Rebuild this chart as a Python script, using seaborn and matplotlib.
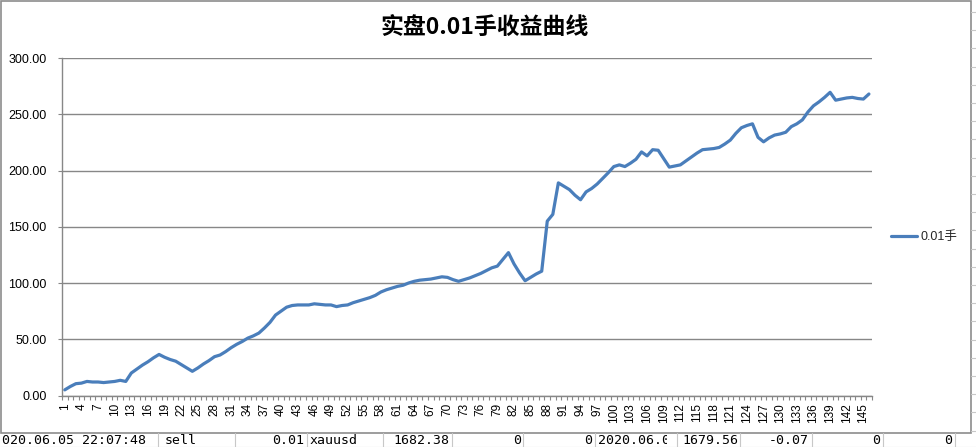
import numpy as np
import pandas as pd
import matplotlib
matplotlib.use("Agg")
import matplotlib.pyplot as plt
from matplotlib.lines import Line2D
from matplotlib.patches import Rectangle
from matplotlib.transforms import Bbox
import seaborn as sns

# ---- data ----
categories = list(range(1, 147))
values = [
    5, 8, 10.5, 11, 12.5, 12, 12, 11.5, 12, 12.5,
    13.5, 12.5, 20, 23.5, 27, 30, 33.5, 36.5, 34, 32,
    30.5, 27.5, 24.5, 21.5, 24.5, 28, 31, 34.5, 36, 39,
    42.5, 45.5, 48, 51, 53, 55.5, 60, 65, 71.5, 75,
    78.5, 80, 80.5, 80.5, 80.5, 81.5, 81, 80.5, 80.5, 79,
    80, 80.5, 82.5, 84, 85.5, 87, 89, 92, 94, 95.5,
    97, 98, 100, 101.5, 102.5, 103, 103.5, 104.5, 105.5, 105,
    103, 101.5, 103, 104.5, 106.5, 108.5, 111, 113.5, 115, 121,
    127, 117, 109, 102, 105, 108, 110.5, 155, 161, 189,
    186, 183, 178, 174, 181, 184, 188, 193, 198, 203.5,
    205, 203.5, 206.5, 210, 216.5, 213, 218.5, 218, 210.5, 203,
    204, 205, 208.5, 212, 215.5, 218.5, 219, 219.5, 220.5, 223.5,
    227, 233, 238, 240, 241.5, 229.5, 225.5, 229, 231.5, 232.5,
    234, 239, 241.5, 245, 252, 257.5, 261, 265, 269.5, 262.5,
    263.5, 264.5, 265, 264, 263.5, 268,
]
series_name = "0.01手"
title = "实盘0.01手收益曲线"
y_ticks = [0, 50, 100, 150, 200, 250, 300]
label_step = 3

# spreadsheet row beneath the chart (text, x position, alignment)
sheet_cells = [
    ("020.06.05 22:07:48", 2, "left"),
    ("sell", 165, "left"),
    ("0.01", 304, "right"),
    ("xauusd", 310, "left"),
    ("1682.38", 449, "right"),
    ("0", 521, "right"),
    ("0", 592, "right"),
    ("2020.06.05", 598, "left"),
    ("1679.56", 738, "right"),
    ("-0.07", 809, "right"),
    ("0", 880, "right"),
    ("0", 952, "right"),
]
sheet_seps = [158, 235, 307, 383, 452, 523, 595, 677, 740, 812, 883, 955]

# ---- style ----
sns.set_style("white")
plt.rcParams["font.family"] = ["Liberation Sans", "Noto Sans CJK SC", "DejaVu Sans"]

W, H = 976, 447
fig = plt.figure(figsize=(W / 100, H / 100), dpi=100)
fig.patch.set_facecolor("white")

# overlay (frame + spreadsheet strip)
ov = fig.add_axes([0, 0, 1, 1], zorder=0)
ov.set_xlim(0, W)
ov.set_ylim(H, 0)
ov.axis("off")
ov.patch.set_visible(False)

grid_sheet = "#c8c8c8"
for yy in np.arange(12, 433, 18.2):
    ov.add_line(Line2D([971, W], [yy, yy], color=grid_sheet, lw=0.8))
ov.add_line(Line2D([0, W], [446.5, 446.5], color=grid_sheet, lw=0.8))
for xs in sheet_seps:
    ov.add_line(Line2D([xs, xs], [433, H], color=grid_sheet, lw=0.8))
ov.add_patch(Rectangle((1, 1), 970, 432, fill=False, edgecolor="#8c8c8c", lw=1.2))

for txt, xpos, ha in sheet_cells:
    t = ov.text(xpos, 440.5, txt, ha=ha, va="center", fontsize=9.5,
                family=["DejaVu Sans Mono"], color="black")
    if txt == "2020.06.05":
        t.set_clip_on(True)
        t.set_clip_box(Bbox.from_extents(595, 0, 667, 14))

# main chart
ax = fig.add_axes([62 / W, 1 - 395.5 / H, (871.7 - 62) / W, (395.5 - 58) / H], zorder=1)
ax.patch.set_visible(False)

df = pd.DataFrame({"pos": np.arange(len(values)), "value": values})
sns.lineplot(data=df, x="pos", y="value", ax=ax, color="#4A7EBB",
             linewidth=2.3, label=series_name)

ax.set_xlim(-0.5, len(values) - 0.5)
ax.set_ylim(0, 300)
ax.set_xlabel("")
ax.set_ylabel("")

ax.set_yticks(y_ticks)
ax.set_yticklabels([f"{v:.2f}" for v in y_ticks])
ax.yaxis.grid(True, color="#878787", linewidth=1.0)
ax.set_axisbelow(True)

pos_major = np.arange(0, len(values), label_step)
ax.set_xticks(pos_major)
ax.set_xticklabels([str(categories[i]) for i in pos_major], rotation=90)
ax.set_xticks(np.arange(-0.5, len(values), 1), minor=True)

ax.tick_params(axis="x", which="major", length=0, pad=5.4, labelsize=8.5, colors="black")
ax.tick_params(axis="x", which="minor", length=3, width=0.8, color="#878787", bottom=True)
ax.tick_params(axis="y", which="major", length=3, width=0.8, color="#878787", pad=8,
               labelsize=9, labelcolor="black", left=True)

for s in ["top", "right"]:
    ax.spines[s].set_visible(False)
for s in ["left", "bottom"]:
    ax.spines[s].set_color("#878787")
    ax.spines[s].set_linewidth(1.0)

ax.legend(loc="center left", bbox_to_anchor=(891 / W, 1 - 237 / H),
          bbox_transform=fig.transFigure, frameon=False, handlelength=2.08,
          handletextpad=0.25, borderpad=0, borderaxespad=0, fontsize=9)

fig.text(485 / W, 1 - 27 / H, title, ha="center", va="center", fontsize=16.5,
         fontweight="bold", family=["Noto Sans CJK SC"], color="black")

fig.savefig("out.png", dpi=100)
